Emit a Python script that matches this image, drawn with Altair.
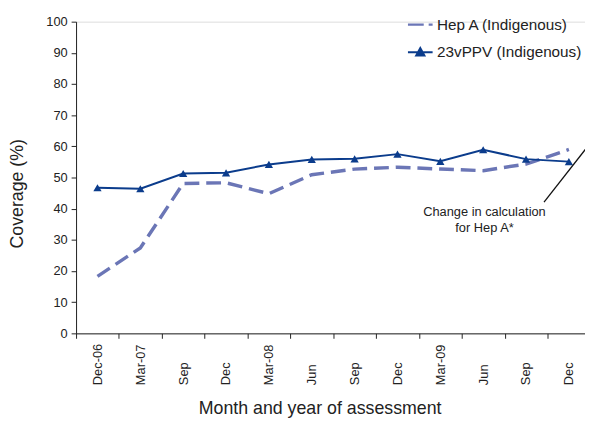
import altair as alt
import pandas as pd

# ---- data ----
labels = ["Dec-06", "Mar-07", "Sep", "Dec", "Mar-08", "Jun", "Sep", "Dec",
          "Mar-09", "Jun", "Sep", "Dec"]
hep_a = [18.3, 27.4, 48.1, 48.3, 44.8, 50.9, 52.7, 53.3, 52.7, 52.2, 54.3, 59.0]
ppv23 = [46.7, 46.4, 51.3, 51.5, 54.2, 55.8, 56.0, 57.5, 55.2, 58.9, 55.9, 55.1]
series_names = ["Hep A (Indigenous)", "23vPPV (Indigenous)"]
series_colors = ["#6B76B6", "#0B3C8C"]

note_lines = ["Change in calculation", "for Hep A*"]
note_x = [9.03, 9.03]
note_y = [38.9, 33.9]
pointer_x = [10.42, 11.6]
pointer_y = [42.1, 62.8]

y_ticks = list(range(0, 101, 10))

# ---- tables ----
rows = []
for i, lab in enumerate(labels):
    rows.append({"idx": i, "label": lab, "series": series_names[0], "value": hep_a[i]})
    rows.append({"idx": i, "label": lab, "series": series_names[1], "value": ppv23[i]})
df = pd.DataFrame(rows)
notes = pd.DataFrame({"x": note_x, "y": note_y, "text": note_lines})
pointer = pd.DataFrame({"x": pointer_x, "y": pointer_y})

FONT = "Liberation Sans"
label_js = "[" + ",".join("'" + l + "'" for l in labels) + "]"

x_scale = alt.Scale(domain=[-0.5, 11.376], nice=False, zero=False)
y_scale = alt.Scale(domain=[0, 100], nice=False)

x_axis = alt.Axis(
    values=list(range(len(labels))),
    labelExpr=label_js + "[datum.value]",
    labelAngle=-90, labelAlign="left", labelBaseline="middle",
    labelPadding=47, tickSize=5, tickOffset=-21.7, labelOffset=21.7,
    grid=False, title="Month and year of assessment",
    titleFontSize=18, titleFontWeight="normal", titleX=247, titleY=81,
    titleBaseline="alphabetic", titleAlign="center",
    labelFontSize=13, labelColor="#222", domainColor="#222", tickColor="#222",
    titleColor="#222", labelFont=FONT, titleFont=FONT, labelOverlap=False,
    labelFlush=False,
)
y_axis = alt.Axis(
    values=y_ticks, grid=False, tickSize=5, labelPadding=4,
    title="Coverage (%)", titleFontSize=18, titleFontWeight="normal",
    titleX=-59, titleY=174, titleAngle=-90, titleAlign="center",
    titleBaseline="middle", labelFontSize=13, labelColor="#222",
    domainColor="#222", tickColor="#222", titleColor="#222",
    labelFont=FONT, titleFont=FONT, labelOverlap=False, labelFlush=False,
)

color_scale = alt.Scale(domain=series_names, range=series_colors)

X = alt.X("idx:Q", scale=x_scale, axis=x_axis)
Y = alt.Y("value:Q", scale=y_scale, axis=y_axis)

base = alt.Chart(df)

hep_line = base.transform_filter(alt.datum.series == series_names[0]).mark_line(
    clip=True, color=series_colors[0], strokeDash=[15, 7], strokeWidth=3.5
).encode(x=X, y=Y)

ppv_line = base.transform_filter(alt.datum.series == series_names[1]).mark_line(
    clip=True, color=series_colors[1], strokeWidth=2
).encode(x=X, y=Y)

tri = base.transform_filter(alt.datum.series == series_names[1]).mark_point(
    shape="triangle-up", filled=True, size=70, opacity=1, color=series_colors[1]
).encode(x=X, y=Y)

legend_paths = [
    "M-1,0L0.28,0M0.68,0L1,0",
    "M-1,0L1,0M-0.32,0.26L0,-0.32L0.32,0.26Z",
]
leg = alt.Legend(
    title=None, orient="none", legendX=335, legendY=-11,
    padding=0, symbolSize=625, symbolStrokeWidth=2.2,
    symbolOpacity=1, labelFontSize=15.5, labelFont=FONT,
    labelColor="#222", labelOffset=3, rowPadding=5, labelLimit=300)
# legend carrier: no visible marks (all rows filtered out), scales have explicit domains
legend_layer = base.transform_filter("datum.idx < 0").mark_point(filled=False, opacity=1).encode(
    x=X, y=Y,
    shape=alt.Shape("series:N",
                    scale=alt.Scale(domain=series_names, range=legend_paths),
                    legend=leg),
    fill=alt.Fill("series:N", scale=color_scale, legend=leg),
    stroke=alt.Stroke("series:N", scale=color_scale, legend=leg),
)

pointer_line = alt.Chart(pointer).mark_line(color="#111", strokeWidth=1.3, clip=True).encode(
    x=alt.X("x:Q", scale=x_scale, axis=x_axis),
    y=alt.Y("y:Q", scale=y_scale, axis=y_axis),
)

note_text = alt.Chart(notes).mark_text(
    fontSize=13, font=FONT, color="#222", align="center", baseline="middle"
).encode(
    x=alt.X("x:Q", scale=x_scale, axis=x_axis),
    y=alt.Y("y:Q", scale=y_scale, axis=y_axis),
    text="text:N",
)

chart = alt.layer(hep_line, ppv_line, tri, legend_layer, pointer_line, note_text).properties(
    width=516, height=316,
    autosize=alt.AutoSizeParams(type="none"),
    padding={"left": 69, "top": 11, "right": 0, "bottom": 86},
).configure_view(stroke=None).configure(background="white")

chart.save("out.html", embed_options={"renderer": "svg", "actions": False})
